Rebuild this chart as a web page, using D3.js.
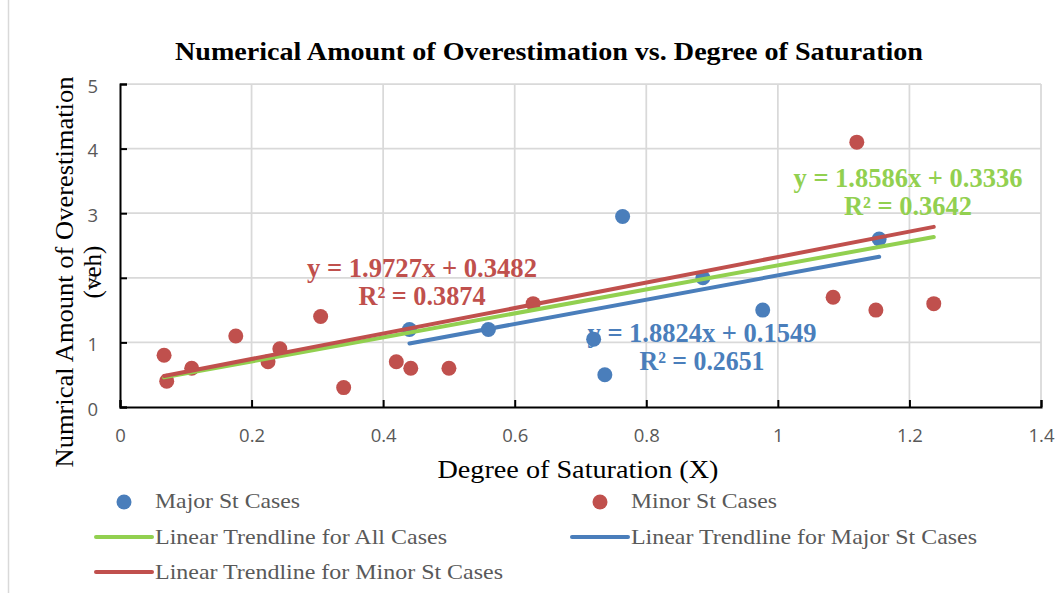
<!DOCTYPE html>
<html>
<head>
<meta charset="utf-8">
<script src="https://cdn.jsdelivr.net/npm/d3@7"></script>
<style>
  body { margin: 0; background: #fff; }
  svg { display: block; }
</style>
</head>
<body>
<svg id="chart"></svg>
<script>
// Data
const majorX = [0.44, 0.56, 0.72, 0.737, 0.764, 0.886, 0.977, 1.154];
const majorY = [1.2, 1.2, 1.05, 0.5, 2.95, 2.0, 1.5, 2.6];
const minorX = [0.067, 0.071, 0.109, 0.176, 0.225, 0.243, 0.305, 0.34, 0.42, 0.442, 0.5, 0.628, 1.084, 1.12, 1.149, 1.237];
const minorY = [0.8, 0.4, 0.6, 1.1, 0.7, 0.9, 1.4, 0.3, 0.7, 0.6, 0.6, 1.6, 1.7, 4.1, 1.5, 1.6];

// trendline coefficients [slope, intercept, r2]
const allFit = [1.8586, 0.3336, 0.3642];
const majorFit = [1.8824, 0.1549, 0.2651];
const minorFit = [1.9727, 0.3482, 0.3874];

const xTicks = [0, 0.2, 0.4, 0.6, 0.8, 1, 1.2, 1.4];
const yTicks = [0, 1, 2, 3, 4, 5];

const colors = { major: "#4a7ebb", minor: "#c0504d", all: "#92d050" };

const width = 1059, height = 593;
const margin = { top: 84, right: 18, bottom: 186, left: 120 };

const svg = d3.select("#chart").attr("width", width).attr("height", height);

const x = d3.scaleLinear().domain([0, 1.4]).range([margin.left, width - margin.right]);
const y = d3.scaleLinear().domain([0, 5]).range([height - margin.bottom, margin.top]);

const serif = "'Liberation Serif', 'Times New Roman', serif";
const sans = "'Open Sans', 'Liberation Sans', Arial, sans-serif";

// chart frame edge on the left
svg.append("line")
  .attr("x1", 8.5).attr("x2", 8.5).attr("y1", 0).attr("y2", height)
  .attr("stroke", "#d9d9d9").attr("stroke-width", 1.5);

// gridlines
svg.append("g")
  .selectAll("line")
  .data(yTicks.filter(d => d > 0))
  .join("line")
  .attr("x1", x(0)).attr("x2", x(1.4))
  .attr("y1", d => y(d)).attr("y2", d => y(d))
  .attr("stroke", "#d9d9d9").attr("stroke-width", 1.75);

svg.append("g")
  .selectAll("line")
  .data(xTicks.filter(d => d > 0))
  .join("line")
  .attr("x1", d => x(d)).attr("x2", d => x(d))
  .attr("y1", y(0)).attr("y2", y(5))
  .attr("stroke", "#d9d9d9").attr("stroke-width", 1.75);

// axes (ticks pointing inwards)
const fmt = d => d3.format("~g")(d);
const xAxis = d3.axisBottom(x).tickValues(xTicks).tickSize(-7).tickPadding(22).tickFormat(fmt);
const gx = svg.append("g")
  .attr("transform", `translate(0,${y(0)})`)
  .call(xAxis);
gx.select(".domain").attr("stroke", "#000").attr("stroke-width", 2);
gx.selectAll(".tick line").attr("stroke", "#000").attr("stroke-width", 2);
gx.selectAll(".tick text").attr("fill", "#595959").style("font-family", sans).style("font-size", "18.5px");

const yAxis = d3.axisLeft(y).tickValues(yTicks).tickSize(-7).tickPadding(22).tickFormat(fmt);
const gy = svg.append("g")
  .attr("transform", `translate(${x(0)},0)`)
  .call(yAxis);
gy.select(".domain").attr("stroke", "#000").attr("stroke-width", 2);
gy.selectAll(".tick line").attr("stroke", "#000").attr("stroke-width", 2);
gy.selectAll(".tick text").attr("fill", "#595959").attr("dy", "0.45em")
  .style("font-family", sans).style("font-size", "18.5px");

// points
const major = majorX.map((d, i) => ({ x: d, y: majorY[i] }));
const minor = minorX.map((d, i) => ({ x: d, y: minorY[i] }));
const all = major.concat(minor);

svg.append("g").selectAll("circle").data(major).join("circle")
  .attr("cx", d => x(d.x)).attr("cy", d => y(d.y)).attr("r", 7.5)
  .attr("fill", colors.major);
svg.append("g").selectAll("circle").data(minor).join("circle")
  .attr("cx", d => x(d.x)).attr("cy", d => y(d.y)).attr("r", 7.5)
  .attr("fill", colors.minor);

// trendlines over the data extent
function trend(points, fit, color) {
  const ext = d3.extent(points, d => d.x);
  const line = d3.line().x(d => x(d)).y(d => y(fit[0] * d + fit[1]));
  svg.append("path")
    .attr("d", line(ext))
    .attr("fill", "none")
    .attr("stroke", color)
    .attr("stroke-width", 4)
    .attr("stroke-linecap", "round");
}
trend(all, allFit, colors.all);
trend(major, majorFit, colors.major);
trend(minor, minorFit, colors.minor);

// equation labels
function eqLabel(fit, color, cx, by, w1, w2) {
  const g = svg.append("g")
    .attr("fill", color)
    .style("font-family", serif)
    .style("font-weight", "bold")
    .style("font-size", "27px")
    .attr("text-anchor", "middle");
  g.append("text").attr("x", cx).attr("y", by)
    .attr("textLength", w1).attr("lengthAdjust", "spacingAndGlyphs")
    .text(`y = ${fit[0].toFixed(4)}x + ${fit[1].toFixed(4)}`);
  g.append("text").attr("x", cx).attr("y", by + 28)
    .attr("textLength", w2).attr("lengthAdjust", "spacingAndGlyphs")
    .text(`R² = ${fit[2].toFixed(4)}`);
}
eqLabel(minorFit, colors.minor, 422, 277, 230, 127);
eqLabel(allFit, colors.all, 908, 187, 229, 128);
eqLabel(majorFit, colors.major, 702, 342, 229, 125);

// title
svg.append("text")
  .attr("x", 549).attr("y", 60)
  .attr("text-anchor", "middle")
  .attr("textLength", 748).attr("lengthAdjust", "spacingAndGlyphs")
  .style("font-family", serif).style("font-weight", "bold").style("font-size", "26px")
  .text("Numerical Amount of Overestimation vs. Degree of Saturation");

// axis titles
svg.append("text")
  .attr("x", 578).attr("y", 478)
  .attr("text-anchor", "middle")
  .attr("textLength", 281).attr("lengthAdjust", "spacingAndGlyphs")
  .style("font-family", serif).style("font-size", "25px")
  .text("Degree of Saturation (X)");

const yt = svg.append("g")
  .attr("transform", "translate(0,272) rotate(-90)")
  .style("font-family", serif).style("font-size", "25px")
  .attr("text-anchor", "middle");
yt.append("text").attr("x", 0).attr("y", 73)
  .attr("textLength", 391).attr("lengthAdjust", "spacingAndGlyphs")
  .text("Numrical Amount of Overestimation");
yt.append("text").attr("x", 0).attr("y", 101)
  .text("(veh)");

// legend
const legendItems = [
  { label: "Major St Cases", type: "dot", color: colors.major, lx: 96, tx: 155, ty: 508, w: 145 },
  { label: "Minor St Cases", type: "dot", color: colors.minor, lx: 572, tx: 631, ty: 508, w: 146 },
  { label: "Linear Trendline for All Cases", type: "line", color: colors.all, lx: 96, tx: 155, ty: 544, w: 292 },
  { label: "Linear Trendline for Major St Cases", type: "line", color: colors.major, lx: 572, tx: 631, ty: 544, w: 346 },
  { label: "Linear Trendline for Minor St Cases", type: "line", color: colors.minor, lx: 96, tx: 155, ty: 579, w: 348 }
];
const lg = svg.append("g");
legendItems.forEach(d => {
  if (d.type === "dot") {
    lg.append("circle").attr("cx", d.lx + 28).attr("cy", d.ty - 6).attr("r", 7.5).attr("fill", d.color);
  } else {
    lg.append("line")
      .attr("x1", d.lx).attr("x2", d.lx + 56)
      .attr("y1", d.ty - 7).attr("y2", d.ty - 7)
      .attr("stroke", d.color).attr("stroke-width", 4).attr("stroke-linecap", "round");
  }
  lg.append("text")
    .attr("x", d.tx).attr("y", d.ty)
    .attr("textLength", d.w).attr("lengthAdjust", "spacingAndGlyphs")
    .attr("fill", "#595959")
    .style("font-family", serif).style("font-size", "22px")
    .text(d.label);
});
</script>
</body>
</html>
